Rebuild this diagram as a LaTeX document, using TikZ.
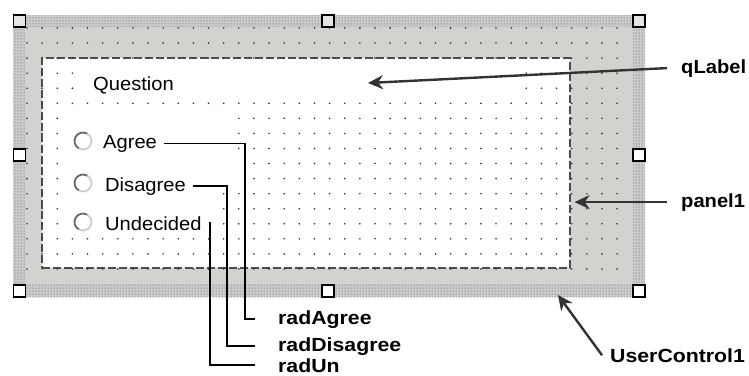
\documentclass[tikz,border=0pt]{standalone}
\usepackage{fontspec}
\setmainfont{Liberation Sans}[FakeStretch=1.06]
\newfontfamily\calloutfont{Liberation Sans Bold}[FakeStretch=1.06]
\newfontfamily\calloutwide{Liberation Sans Bold}[FakeStretch=1.12]
\usetikzlibrary{arrows.meta,patterns}

\definecolor{formgray}{RGB}{212,210,206}

\tikzset{
  ctrltext/.style={anchor=base west, inner sep=0pt, font=\fontsize{19}{22}\selectfont},
  callout/.style={anchor=base west, inner sep=0pt, font=\calloutfont\fontsize{19}{22}\selectfont},
  wide/.style={font=\calloutwide\fontsize{19}{22}\selectfont},
  leader/.style={line width=1.6pt, black, shorten <=7pt, shorten >=23pt},
  pointer/.style={line width=2.4pt, black!80, -{Stealth[length=15pt,width=14pt]}},
  handle/.style={draw=black, line width=1.2pt, fill=white, minimum size=12pt, inner sep=0pt},
  panelbox/.style={draw=black!70, fill=white, line width=1.2pt,
    dash pattern=on 8pt off 3pt, minimum width=528pt, minimum height=210pt, inner sep=0pt},
  griddot/.style={fill=black!80},
  radiodark/.style={draw=black!60, line width=1.8pt},
  radiolight/.style={draw=black!20, line width=1.8pt}
}

\begin{document}
\begin{tikzpicture}[x=1pt,y=-1pt]
\useasboundingbox (0,0) rectangle (749,375);

% selection frame and form
\fill[gray!40] (13,15) rectangle (645,297);
\fill[pattern=dots, pattern color=black!75] (13,15) rectangle (645,297);
\fill[formgray] (25,27) rectangle (633,284);

\node[panelbox] (panel) at (306,163) {};

% design grid
\foreach \i in {0,...,39}
  \foreach \j in {0,...,16}
    \fill[griddot] (27+15.13*\i,28+15.06*\j) circle (0.9);

% controls cover the grid
\fill[white] (78,60) rectangle (521,97);
\fill[white] (65,110) rectangle (231,157);
\fill[white] (65,158) rectangle (246,188);
\fill[white] (65,189) rectangle (216,233);

% sizing handles
\node[handle, fill=gray!20] (h1) at (19.5,21) {};
\node[handle, fill=gray!20] (h2) at (328,21) {};
\node[handle, fill=gray!20] (h3) at (639,21) {};
\node[handle] (h4) at (19.5,155) {};
\node[handle] (h5) at (639,155) {};
\node[handle] (h6) at (19.5,291) {};
\node[handle] (h7) at (328,291) {};
\node[handle] (h8) at (639,291) {};

% radio buttons
\foreach \ry in {141,183,222} {
  \draw[radiolight] (83,\ry) ++(120:8.5) arc (120:-60:8.5);
  \draw[radiodark] (83,\ry) ++(-60:8.5) arc (-60:-240:8.5);
}

\node[ctrltext] (question) at (93,90) {Question};
\node[ctrltext] (agree) at (103,148) {Agree};
\node[ctrltext] (disagree) at (105,191) {Disagree};
\node[ctrltext] (undecided) at (105,230) {Undecided};

% callouts
\node[callout] (lblQ) at (681,73) {qLabel};
\node[callout] (lblPanel) at (681,207) {panel1};
\node[callout, wide] (lblUC) at (610,362) {UserControl1};
\node[callout, wide] (radA) at (278,324) {radAgree};
\node[callout, wide] (radD) at (278,351) {radDisagree};
\node[callout, wide] (radU) at (278,372) {radUn};

\coordinate (qtip) at (368,83);
\coordinate (uctip) at (558,295);

\draw[pointer] ([xshift=-14pt]lblQ.west) -- (qtip);
\draw[pointer, shorten >=4pt] ([xshift=-14pt]lblPanel.west) -- (panel.east |- lblPanel.west);
\draw[pointer] ([xshift=-8pt]lblUC.west) -- (uctip);

\draw[leader] (agree.east) -| ([xshift=-33pt]radA.west) -- (radA.west);
\draw[leader] (disagree.east) -| ([xshift=-51pt]radD.west) -- (radD.west);
\draw[leader] (undecided.east) -| ([xshift=-68pt]radU.west) -- (radU.west);
\end{tikzpicture}
\end{document}
